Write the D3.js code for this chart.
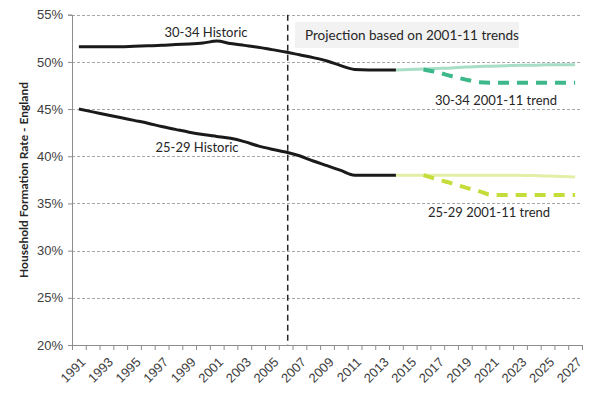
<!DOCTYPE html>
<html>
<head>
<meta charset="utf-8">
<script src="https://cdn.jsdelivr.net/npm/d3@7"></script>
<style>
  body { margin: 0; background: #fff; }
  svg { font-family: Lato, 'Liberation Sans', sans-serif; }
</style>
</head>
<body>
<div id="chart"></div>
<script>
// categories
var years = d3.range(1991, 2028);
var yTicks = [0.20, 0.25, 0.30, 0.35, 0.40, 0.45, 0.50, 0.55];

// historic series, 1991-2014
var histYears = d3.range(1991, 2015);
var hist3034 = [51.6, 51.6, 51.6, 51.6, 51.65, 51.7, 51.75, 51.85, 51.9, 52.0, 52.2, 51.95,
  51.75, 51.55, 51.3, 51.05, 50.75, 50.45, 50.1, 49.6, 49.2, 49.15, 49.15, 49.15];
var hist2529 = [45.0, 44.7, 44.4, 44.1, 43.8, 43.5, 43.15, 42.85, 42.55, 42.3, 42.1, 41.9,
  41.55, 41.1, 40.75, 40.45, 40.05, 39.5, 39.0, 38.5, 38.0, 38.0, 38.0, 38.0];

// projections, 2014-2027
var projYears = d3.range(2014, 2028);
var proj3034 = [49.15, 49.2, 49.25, 49.3, 49.35, 49.45, 49.5, 49.55, 49.6, 49.65, 49.65, 49.7, 49.7, 49.7];
var proj2529 = [38.0, 38.0, 38.0, 38.0, 38.0, 38.0, 38.0, 38.0, 38.0, 37.98, 37.95, 37.9, 37.85, 37.8];

// 2001-11 trend, 2016-2027
var trendYears = d3.range(2016, 2028);
var trend3034 = [49.2, 48.9, 48.5, 48.15, 47.85, 47.8, 47.8, 47.8, 47.8, 47.8, 47.8, 47.8];
var trend2529 = [38.0, 37.55, 37.15, 36.7, 36.3, 35.9, 35.9, 35.9, 35.9, 35.9, 35.9, 35.9];

var projectionStart = 2006.15; // dashed marker

var width = 600, height = 393;
var plotLeft = 72, plotRight = 582, plotTop = 14.7, plotBottom = 345;

var svg = d3.select('#chart').append('svg')
  .attr('width', width)
  .attr('height', height);

// x: category axis, each year centred in its slot
var x = d3.scaleLinear()
  .domain([years[0] - 0.5, years[years.length - 1] + 0.5])
  .range([plotLeft, plotRight]);
var y = d3.scaleLinear()
  .domain([0.20, 0.55])
  .range([plotBottom, plotTop]);

// gridlines
svg.append('g')
  .selectAll('line')
  .data(yTicks.slice(1))
  .enter()
  .append('line')
  .attr('x1', plotLeft)
  .attr('x2', plotRight)
  .attr('y1', function (d) { return Math.round(y(d)) + 0.5; })
  .attr('y2', function (d) { return Math.round(y(d)) + 0.5; })
  .attr('stroke', '#a6a6a6')
  .attr('stroke-dasharray', '3,2');

// y axis
var yAxis = d3.axisLeft(y)
  .tickValues(yTicks)
  .tickFormat(d3.format('.0%'))
  .tickSize(4)
  .tickPadding(5);
var gy = svg.append('g')
  .attr('transform', 'translate(' + plotLeft + ',0)')
  .call(yAxis);
gy.select('.domain').attr('stroke', '#8c8c8c');
gy.selectAll('.tick line').attr('stroke', '#8c8c8c');
gy.selectAll('.tick text')
  .attr('fill', '#404040')
  .style('font-size', '13px');

// x axis ticks at category boundaries
var xAxis = d3.axisBottom(x)
  .tickValues(d3.range(years[0] - 0.5, years[years.length - 1] + 1, 1))
  .tickFormat('')
  .tickSize(5)
  .tickSizeOuter(0);
var gx = svg.append('g')
  .attr('transform', 'translate(0,' + plotBottom + ')')
  .call(xAxis);
gx.select('.domain').attr('stroke', '#8c8c8c');
gx.selectAll('.tick line').attr('stroke', '#8c8c8c');

// x labels, every other year
var xLabels = d3.axisBottom(x)
  .tickValues(years.filter(function (d) { return d % 2 === 1; }))
  .tickFormat(d3.format('d'))
  .tickSize(0);
var gl = svg.append('g')
  .attr('transform', 'translate(0,' + plotBottom + ')')
  .call(xLabels);
gl.select('.domain').remove();
gl.selectAll('.tick text')
  .attr('fill', '#404040')
  .style('font-size', '13px')
  .attr('text-anchor', 'end')
  .attr('dy', 0)
  .attr('y', 0)
  .attr('transform', 'translate(7,18) rotate(-45)');

// y axis title
svg.append('text')
  .attr('transform', 'translate(28,180) rotate(-90)')
  .attr('text-anchor', 'middle')
  .attr('fill', '#262626')
  .style('font-size', '12px')
  .style('font-weight', 'bold')
  .text('Household Formation Rate - England');

// projection start marker
svg.append('line')
  .attr('x1', x(projectionStart))
  .attr('x2', x(projectionStart))
  .attr('y1', plotTop)
  .attr('y2', plotBottom)
  .attr('stroke', '#262626')
  .attr('stroke-width', 1.5)
  .attr('stroke-dasharray', '6,4');

// projection label box
var box = svg.append('g');
box.append('rect')
  .attr('x', 295)
  .attr('y', 22)
  .attr('width', 224)
  .attr('height', 26)
  .attr('fill', '#f2f2f2');
box.append('text')
  .attr('x', 305)
  .attr('y', 40)
  .attr('fill', '#262626')
  .style('font-size', '13.5px')
  .text('Projection based on 2001-11 trends');

var line = d3.line()
  .x(function (d) { return x(d[0]); })
  .y(function (d) { return y(d[1] / 100); })
  .curve(d3.curveMonotoneX);

function zip(xs, vs) {
  return xs.map(function (d, i) { return [d, vs[i]]; });
}

var series = [
  { xs: projYears, vs: proj3034, color: '#a8dec6', w: 3, dash: null },
  { xs: projYears, vs: proj2529, color: '#e2efa6', w: 3, dash: null },
  { xs: trendYears, vs: trend3034, color: '#3db88a', w: 4, dash: '11,8' },
  { xs: trendYears, vs: trend2529, color: '#c6dc3a', w: 4, dash: '11,8' },
  { xs: histYears, vs: hist3034, color: '#1a1a1a', w: 3, dash: null },
  { xs: histYears, vs: hist2529, color: '#1a1a1a', w: 3, dash: null }
];

svg.append('g')
  .selectAll('path')
  .data(series)
  .enter()
  .append('path')
  .attr('d', function (d) { return line(zip(d.xs, d.vs)); })
  .attr('fill', 'none')
  .attr('stroke', function (d) { return d.color; })
  .attr('stroke-width', function (d) { return d.w; })
  .attr('stroke-dasharray', function (d) { return d.dash; });

// series labels
var labels = [
  { t: '30-34 Historic', x: 206, y: 37 },
  { t: '25-29 Historic', x: 197, y: 152 },
  { t: '30-34 2001-11 trend', x: 496, y: 105 },
  { t: '25-29 2001-11 trend', x: 489, y: 217 }
];
svg.append('g')
  .selectAll('text')
  .data(labels)
  .enter()
  .append('text')
  .attr('x', function (d) { return d.x; })
  .attr('y', function (d) { return d.y; })
  .attr('text-anchor', 'middle')
  .attr('fill', '#262626')
  .style('font-size', '13px')
  .text(function (d) { return d.t; });
</script>
</body>
</html>
